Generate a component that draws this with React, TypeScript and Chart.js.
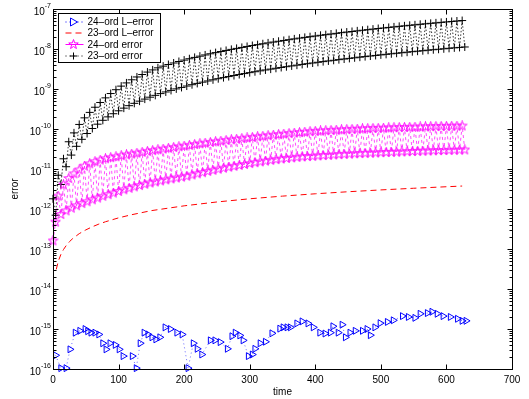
import React, { useEffect, useRef } from "react";
import { Chart, registerables } from "chart.js";
Chart.register(...registerables);

const W = 529;
const H = 399;
const FONT = '"Liberation Sans", Arial, Helvetica, sans-serif';

const seriesLabels = ["24\u2013ord L\u2013error", "23\u2013ord L\u2013error", "24\u2013ord error", "23\u2013ord error"];
const xTicks = [0, 100, 200, 300, 400, 500, 600, 700];
const yDecades = [-16, -15, -14, -13, -12, -11, -10, -9, -8, -7];

// sample times of the two oscillating error series (alternating upper / lower envelope)
const bandTimes = [0,4,8,12,16,20,24,28,32,36,40,44,48,52,56,60,64,68,72,76,80,84,88,92,96,100,104,108,112,116,120,124,128,132,136,140,144,148,152,156,160,164,168,172,176,180,184,188,192,196,200,204,208,212,216,220,224,228,232,236,240,244,248,252,256,260,264,268,272,276,280,284,288,292,296,300,304,308,312,316,320,324,328,332,336,340,344,348,352,356,360,364,368,372,376,380,384,388,392,396,400,404,408,412,416,420,424,428,432,436,440,444,448,452,456,460,464,468,472,476,480,484,488,492,496,500,504,508,512,516,520,524,528,532,536,540,544,548,552,556,560,564,568,572,576,580,584,588,592,596,600,604,608,612,616,620,624,628];

// 23-ord error: upper envelope samples (t = 0, 8, 16, ...)
const black23Upper = [1.8e-12,7.0e-12,1.8e-11,4.8e-11,8.0e-11,1.3e-10,1.9e-10,2.6e-10,3.5e-10,4.6e-10,6.0e-10,7.7e-10,9.6e-10,1.18e-9,1.42e-9,1.70e-9,2.0e-9,2.3e-9,2.65e-9,3.0e-9,3.38e-9,3.73e-9,4.09e-9,4.47e-9,4.87e-9,5.28e-9,5.71e-9,6.16e-9,6.62e-9,7.10e-9,7.60e-9,8.12e-9,8.65e-9,9.20e-9,9.77e-9,1.035e-8,1.095e-8,1.157e-8,1.22e-8,1.285e-8,1.352e-8,1.42e-8,1.49e-8,1.56e-8,1.635e-8,1.71e-8,1.79e-8,1.87e-8,1.95e-8,2.03e-8,2.11e-8,2.20e-8,2.28e-8,2.37e-8,2.46e-8,2.56e-8,2.65e-8,2.74e-8,2.84e-8,2.94e-8,3.04e-8,3.14e-8,3.25e-8,3.35e-8,3.46e-8,3.57e-8,3.68e-8,3.79e-8,3.91e-8,4.02e-8,4.14e-8,4.26e-8,4.38e-8,4.50e-8,4.63e-8,4.75e-8,4.88e-8,5.01e-8,5.14e-8];
// 23-ord error: lower envelope samples (t = 4, 12, 20, ...)
const black23Lower = [7.0e-13,4.1e-12,1.14e-11,2.23e-11,3.69e-11,5.52e-11,7.71e-11,1.03e-10,1.32e-10,1.65e-10,2.01e-10,2.41e-10,2.85e-10,3.32e-10,3.83e-10,4.38e-10,4.97e-10,5.59e-10,6.24e-10,6.94e-10,7.67e-10,8.43e-10,9.23e-10,1.007e-9,1.095e-9,1.186e-9,1.281e-9,1.379e-9,1.482e-9,1.587e-9,1.697e-9,1.81e-9,1.927e-9,2.047e-9,2.171e-9,2.299e-9,2.43e-9,2.565e-9,2.704e-9,2.846e-9,2.992e-9,3.141e-9,3.295e-9,3.451e-9,3.612e-9,3.776e-9,3.944e-9,4.115e-9,4.29e-9,4.469e-9,4.652e-9,4.838e-9,5.027e-9,5.221e-9,5.418e-9,5.618e-9,5.823e-9,6.031e-9,6.242e-9,6.457e-9,6.676e-9,6.899e-9,7.125e-9,7.355e-9,7.588e-9,7.825e-9,8.066e-9,8.311e-9,8.559e-9,8.81e-9,9.066e-9,9.325e-9,9.587e-9,9.854e-9,1.012e-8,1.04e-8,1.068e-8,1.096e-8,1.124e-8];

// 24-ord error: upper envelope samples (t = 0, 8, 16, ...)
const mag24Upper = [1.6e-13,2.1e-12,4.0e-12,5.8e-12,7.6e-12,9.5e-12,1.18e-11,1.35e-11,1.52e-11,1.67e-11,1.81e-11,1.92e-11,2.03e-11,2.15e-11,2.26e-11,2.37e-11,2.49e-11,2.62e-11,2.76e-11,2.89e-11,3.03e-11,3.16e-11,3.31e-11,3.46e-11,3.6e-11,3.75e-11,3.92e-11,4.09e-11,4.27e-11,4.45e-11,4.63e-11,4.81e-11,4.99e-11,5.18e-11,5.37e-11,5.56e-11,5.76e-11,5.97e-11,6.17e-11,6.38e-11,6.6e-11,6.81e-11,7.03e-11,7.25e-11,7.48e-11,7.71e-11,7.93e-11,8.16e-11,8.38e-11,8.59e-11,8.76e-11,8.93e-11,9.07e-11,9.22e-11,9.38e-11,9.53e-11,9.67e-11,9.81e-11,9.94e-11,1.008e-10,1.02e-10,1.033e-10,1.044e-10,1.055e-10,1.067e-10,1.077e-10,1.087e-10,1.097e-10,1.107e-10,1.116e-10,1.125e-10,1.135e-10,1.144e-10,1.153e-10,1.161e-10,1.168e-10,1.176e-10,1.184e-10,1.192e-10];
// 24-ord error: lower envelope samples (t = 4, 12, 20, ...)
const mag24Lower = [4.7e-13,7.3e-13,9.0e-13,1.05e-12,1.21e-12,1.37e-12,1.52e-12,1.70e-12,1.88e-12,2.08e-12,2.28e-12,2.51e-12,2.74e-12,3.02e-12,3.30e-12,3.58e-12,3.86e-12,4.17e-12,4.48e-12,4.76e-12,5.04e-12,5.35e-12,5.66e-12,5.96e-12,6.27e-12,6.6e-12,7.1e-12,7.6e-12,8.1e-12,8.7e-12,9.3e-12,9.9e-12,1.05e-11,1.11e-11,1.17e-11,1.23e-11,1.30e-11,1.37e-11,1.44e-11,1.51e-11,1.58e-11,1.65e-11,1.72e-11,1.78e-11,1.84e-11,1.90e-11,1.96e-11,2.01e-11,2.05e-11,2.09e-11,2.13e-11,2.17e-11,2.21e-11,2.25e-11,2.29e-11,2.33e-11,2.37e-11,2.41e-11,2.44e-11,2.47e-11,2.50e-11,2.53e-11,2.56e-11,2.59e-11,2.62e-11,2.65e-11,2.68e-11,2.71e-11,2.74e-11,2.77e-11,2.80e-11,2.83e-11,2.86e-11,2.89e-11,2.91e-11,2.94e-11,2.96e-11,2.98e-11,3.00e-11];

// 23-ord L-error (red dashed)
const red23Times = [5,8,12,16,20,25,30,40,50,60,70,80,100,120,150,200,250,300,350,400,450,500,550,600,624];
const red23Values = [3.1e-14,4.9e-14,7.3e-14,9.7e-14,1.21e-13,1.52e-13,1.82e-13,2.42e-13,3.0e-13,3.6e-13,4.2e-13,4.8e-13,6.0e-13,7.2e-13,9.1e-13,1.2e-12,1.5e-12,1.8e-12,2.1e-12,2.4e-12,2.7e-12,3.0e-12,3.3e-12,3.6e-12,3.75e-12];

// 24-ord L-error (blue triangles)
const blue24Times = [4,12,20,26,34,41,49,53,58,64,70,76,81,87,95,101,107,121,127,133,139,145,151,157,163,171,179,189,197,206,214,220,227,240,247,255,266,273,278,285,290,298,304,308,316,324,334,346,351,357,362,372,380,389,397,407,415,423,427,435,441,446,453,461,472,479,484,491,499,510,519,533,542,552,560,571,578,586,595,606,617,624,630];
const blue24Values = [2.2e-16,1.05e-16,1.05e-16,3.1e-16,8.1e-16,9.0e-16,1.0e-15,8.8e-16,8.1e-16,8.1e-16,7.3e-16,4.4e-16,3.1e-16,4.4e-16,4.0e-16,3.1e-16,2.1e-16,2.1e-16,1.05e-16,4.4e-16,8.1e-16,7.3e-16,6.2e-16,5.5e-16,6.2e-16,1.1e-15,1.0e-15,8.1e-16,7.3e-16,1.05e-16,4.4e-16,3.2e-16,2.3e-16,5.2e-16,5.2e-16,4.7e-16,3.2e-16,6.6e-16,8.1e-16,6.9e-16,5.2e-16,2.1e-16,2.3e-16,3.2e-16,4.4e-16,4.8e-16,7.8e-16,1.02e-15,1.1e-15,1.1e-15,1.1e-15,1.38e-15,1.55e-15,1.38e-15,1.1e-15,8.1e-16,7.7e-16,8.1e-16,1.17e-15,8.1e-16,1.28e-15,6.2e-16,8.1e-16,9.0e-16,9.0e-16,1.0e-15,7.0e-16,1.1e-15,1.4e-15,1.5e-15,1.65e-15,2.1e-15,2.0e-15,1.9e-15,2.4e-15,2.5e-15,2.7e-15,2.4e-15,2.1e-15,2.0e-15,1.8e-15,1.6e-15,1.6e-15];

function makeStar(color: string): HTMLCanvasElement {
  const c = document.createElement("canvas");
  c.width = 11;
  c.height = 11;
  const g = c.getContext("2d")!;
  g.strokeStyle = color;
  g.lineWidth = 1;
  g.beginPath();
  for (let i = 0; i < 10; i++) {
    const r = i % 2 === 0 ? 5 : 2;
    const a = -Math.PI / 2 + (i * Math.PI) / 5;
    const px = 5.5 + r * Math.cos(a);
    const py = 5.5 + r * Math.sin(a);
    if (i === 0) g.moveTo(px, py);
    else g.lineTo(px, py);
  }
  g.closePath();
  g.stroke();
  return c;
}

function band(times: number[], upper: number[], lower: number[]) {
  return times.map((t, i) => ({ x: t, y: i % 2 === 0 ? upper[i >> 1] : lower[i >> 1] }));
}

export default function App() {
  const ref = useRef<HTMLCanvasElement | null>(null);

  useEffect(() => {
    const canvas = ref.current;
    if (!canvas) return;
    const star = makeStar("#ff00ff");

    const axesPlugin = {
      id: "matlabAxes",
      afterDraw(chart: any) {
        const ctx: CanvasRenderingContext2D = chart.ctx;
        const { left, right, top, bottom } = chart.chartArea;
        const xs = chart.scales.x;
        const ys = chart.scales.y;
        ctx.save();
        ctx.strokeStyle = "#000";
        ctx.fillStyle = "#000";
        ctx.lineWidth = 1;
        const L = Math.round(left) + 0.5;
        const R = Math.round(right) + 0.5;
        const T = Math.round(top) + 0.5;
        const B = Math.round(bottom) + 0.5;
        ctx.strokeRect(L, T, R - L, B - T);

        ctx.beginPath();
        for (const v of xTicks) {
          const px = Math.round(xs.getPixelForValue(v)) + 0.5;
          ctx.moveTo(px, B);
          ctx.lineTo(px, B - 5);
          ctx.moveTo(px, T);
          ctx.lineTo(px, T + 5);
        }
        for (const e of yDecades) {
          const py = Math.round(ys.getPixelForValue(Math.pow(10, e))) + 0.5;
          ctx.moveTo(L, py);
          ctx.lineTo(L + 5, py);
          ctx.moveTo(R, py);
          ctx.lineTo(R - 5, py);
          if (e < -7) {
            for (let m = 2; m <= 9; m++) {
              const pm = Math.round(ys.getPixelForValue(m * Math.pow(10, e))) + 0.5;
              ctx.moveTo(L, pm);
              ctx.lineTo(L + 3, pm);
              ctx.moveTo(R, pm);
              ctx.lineTo(R - 3, pm);
            }
          }
        }
        ctx.stroke();

        ctx.font = `10px ${FONT}`;
        ctx.textAlign = "center";
        ctx.textBaseline = "middle";
        for (const v of xTicks) {
          ctx.fillText(String(v), xs.getPixelForValue(v), bottom + 11);
        }
        ctx.fillText("time", (left + right) / 2, bottom + 23);

        for (const e of yDecades) {
          const py = ys.getPixelForValue(Math.pow(10, e));
          const expStr = String(e);
          ctx.font = `7px ${FONT}`;
          ctx.textAlign = "right";
          const ew = ctx.measureText(expStr).width;
          ctx.fillText(expStr, left - 2, py - 3);
          ctx.font = `10px ${FONT}`;
          ctx.fillText("10", left - 2 - ew, py + 3);
        }

        ctx.save();
        ctx.translate(15, (top + bottom) / 2);
        ctx.rotate(-Math.PI / 2);
        ctx.textAlign = "center";
        ctx.font = `10px ${FONT}`;
        ctx.fillText("error", 0, 0);
        ctx.restore();

        // legend box
        const bx = left + 5.5;
        const by = top + 4.5;
        const bw = 102;
        const bh = 49;
        ctx.fillStyle = "#fff";
        ctx.fillRect(bx, by, bw, bh);
        ctx.strokeStyle = "#000";
        ctx.strokeRect(bx, by, bw, bh);
        const rows = [by + 8.5, by + 19.5, by + 31, by + 42.5];
        const lx0 = bx + 7;
        const lx1 = bx + 25;
        const mx = bx + 15;
        ctx.font = `10px ${FONT}`;
        ctx.textAlign = "left";
        ctx.textBaseline = "middle";
        rows.forEach((ry, i) => {
          ctx.save();
          ctx.lineWidth = 1;
          if (i === 0) {
            ctx.strokeStyle = "#0000ff";
            ctx.setLineDash([1, 3]);
          } else if (i === 1) {
            ctx.strokeStyle = "#ff0000";
            ctx.setLineDash([6, 4]);
          } else if (i === 2) {
            ctx.strokeStyle = "#ff00ff";
            ctx.setLineDash([]);
          } else {
            ctx.strokeStyle = "#000";
            ctx.setLineDash([1, 3]);
          }
          ctx.beginPath();
          ctx.moveTo(lx0, ry);
          ctx.lineTo(lx1, ry);
          ctx.stroke();
          ctx.setLineDash([]);
          if (i === 0) {
            ctx.fillStyle = "#fff";
            ctx.beginPath();
            ctx.moveTo(mx + 4, ry);
            ctx.lineTo(mx - 3, ry - 4);
            ctx.lineTo(mx - 3, ry + 4);
            ctx.closePath();
            ctx.fill();
            ctx.stroke();
          } else if (i === 2) {
            ctx.drawImage(star, mx - 5.5, ry - 5.5);
          } else if (i === 3) {
            ctx.beginPath();
            ctx.moveTo(mx - 3.5, ry);
            ctx.lineTo(mx + 3.5, ry);
            ctx.moveTo(mx, ry - 3.5);
            ctx.lineTo(mx, ry + 3.5);
            ctx.stroke();
          }
          ctx.restore();
          ctx.fillStyle = "#000";
          ctx.fillText(seriesLabels[i], bx + 29, ry + 0.5);
        });
        ctx.restore();
      },
    };

    const chart = new Chart(canvas, {
      type: "scatter",
      data: {
        datasets: [
          {
            label: seriesLabels[0],
            data: blue24Times.map((t, i) => ({ x: t, y: blue24Values[i] })),
            showLine: true,
            borderColor: "#0000ff",
            borderWidth: 0.6,
            borderDash: [1, 3],
            pointStyle: "triangle",
            rotation: 90,
            pointRadius: 4,
            pointBorderColor: "#0000ff",
            pointBackgroundColor: "rgba(0,0,0,0)",
            pointBorderWidth: 1,
            clip: false,
          } as any,
          {
            label: seriesLabels[1],
            data: red23Times.map((t, i) => ({ x: t, y: red23Values[i] })),
            showLine: true,
            borderColor: "#ff0000",
            borderWidth: 1,
            borderDash: [6, 4],
            pointRadius: 0,
          } as any,
          {
            label: seriesLabels[2],
            data: band(bandTimes, mag24Upper, mag24Lower),
            showLine: true,
            borderColor: "#ff00ff",
            borderWidth: 0.7,
            borderDash: [3, 3],
            pointStyle: star,
            pointRadius: 4,
            clip: false,
          } as any,
          {
            label: seriesLabels[3],
            data: band(bandTimes, black23Upper, black23Lower),
            showLine: true,
            borderColor: "#000000",
            borderWidth: 0.8,
            borderDash: [1.5, 2],
            pointStyle: "cross",
            pointRadius: 4,
            pointBorderColor: "#000",
            pointBorderWidth: 1,
            clip: false,
          } as any,
        ],
      },
      options: {
        responsive: false,
        animation: false,
        devicePixelRatio: 1,
        layout: { padding: { left: 53, top: 9, right: 17, bottom: 30 } },
        plugins: { legend: { display: false }, tooltip: { enabled: false } },
        scales: {
          x: { type: "linear", min: 0, max: 700, display: false },
          y: { type: "logarithmic", min: 1e-16, max: 1e-7, display: false },
        },
      },
      plugins: [axesPlugin],
    });
    return () => chart.destroy();
  }, []);

  return (
    <div style={{ position: "fixed", left: 0, top: 0, width: W, height: H, background: "#fff" }}>
      <canvas ref={ref} width={W} height={H} style={{ display: "block", width: W, height: H }} />
    </div>
  );
}
